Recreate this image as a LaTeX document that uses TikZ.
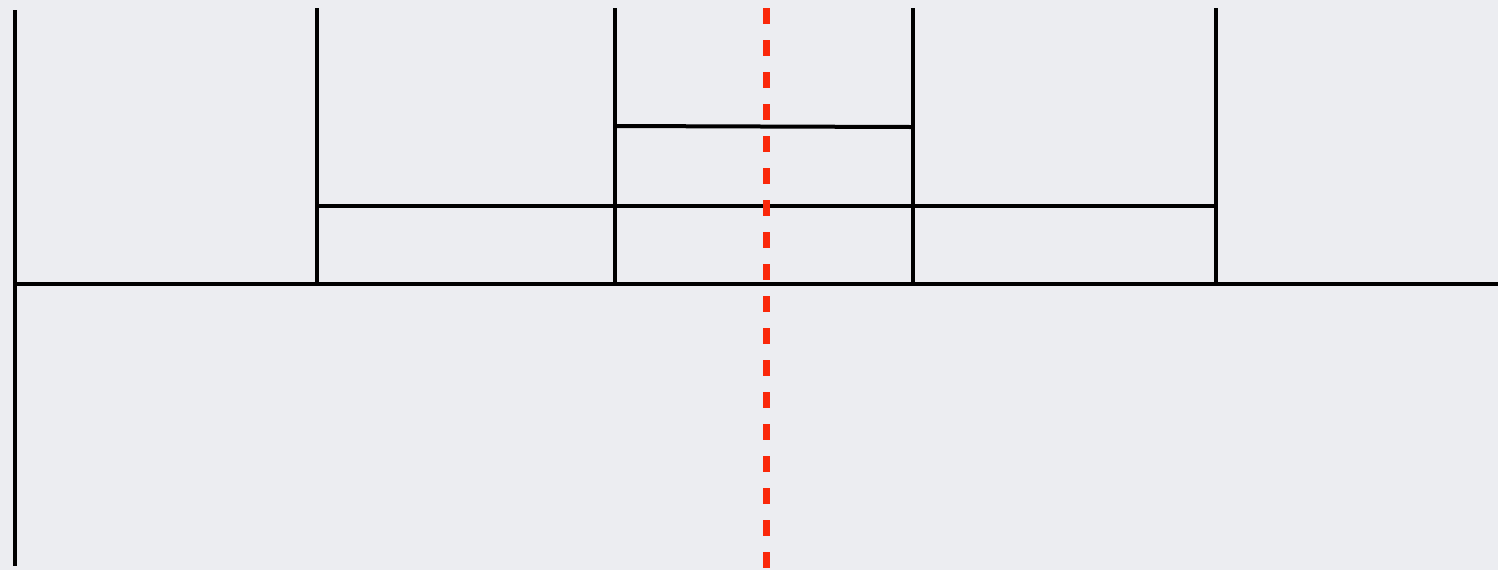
\documentclass[tikz,border=0pt]{standalone}
\definecolor{bgc}{RGB}{236,237,241}
\definecolor{redd}{RGB}{250,40,10}
\begin{document}
\begin{tikzpicture}[x=0.5pt,y=-0.5pt,
  blk/.style={line width=2pt,black},
  axis/.style={line width=3.5pt,redd,dash pattern=on 8pt off 8pt}]
\fill[bgc] (0,0) rectangle (1498,570);
\useasboundingbox (0,0) rectangle (1498,570);
% main frame
\draw[blk] (15,10) -- (15,566);
\draw[blk] (15,284) -- (1498,284);
% posts
\foreach \x in {317,615,913,1216}
  \draw[blk] (\x,8) -- (\x,284);
% bars
\draw[blk] (317,206) -- (1216,206);
\draw[blk] (615,126) -- (913,127);
% dashed axis
\draw[axis] (766,8) -- (766,570);
\end{tikzpicture}
\end{document}
